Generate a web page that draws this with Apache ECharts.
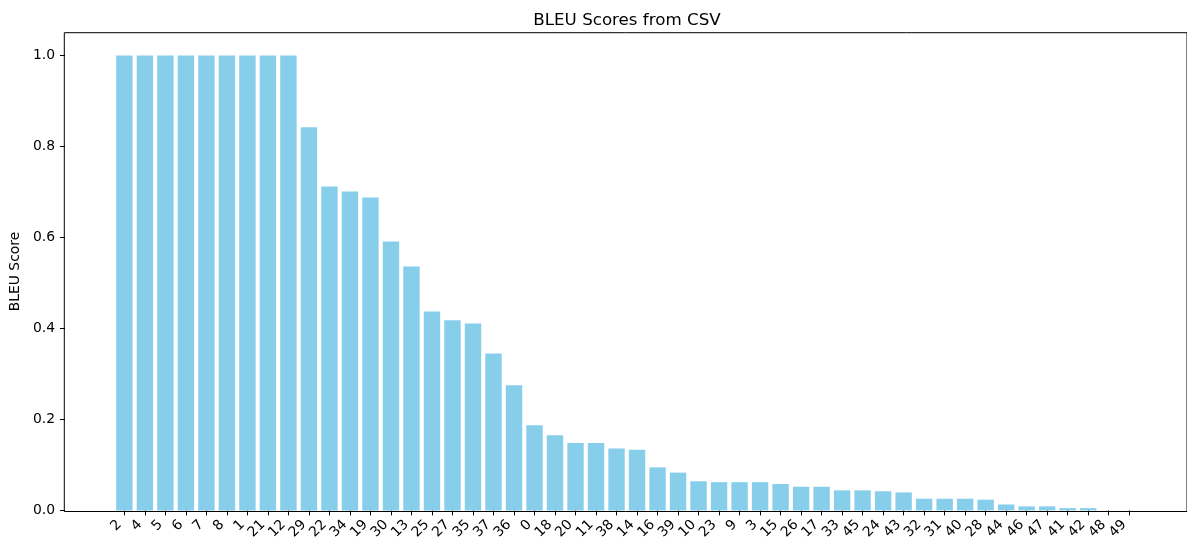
<!DOCTYPE html>
<html>
<head>
<meta charset="utf-8">
<script src="https://cdn.jsdelivr.net/npm/echarts@6/dist/echarts.min.js"></script>
<style>html,body{margin:0;padding:0;background:#fff}#c{width:1187px;height:542px}</style>
</head>
<body>
<div id="c"></div>
<script>
const categories = ['2','4','5','6','7','8','1','21','12','29','22','34','19','30','13','25','27','35','37','36','0','18','20','11','38','14','16','39','10','23','9','3','15','26','17','33','45','24','43','32','31','40','28','44','46','47','41','42','48','49'];
const bleuScores = [1.0,1.0,1.0,1.0,1.0,1.0,1.0,1.0,1.0,0.842,0.712,0.701,0.688,0.591,0.536,0.437,0.418,0.411,0.345,0.275,0.187,0.165,0.148,0.148,0.136,0.133,0.0945,0.083,0.064,0.062,0.062,0.062,0.058,0.052,0.052,0.044,0.044,0.042,0.0395,0.0256,0.0256,0.0256,0.0235,0.013,0.0088,0.0088,0.005,0.005,0,0];
const yTicks = [0,0.2,0.4,0.6,0.8,1.0];

const font = 'DejaVu Sans';
// layout (pixels)
const frameLeft = 64.3, frameTop = 32.7, frameBottom = 511.5, frameRight = 1188.5;
const step = 20.52;                // pixel per category
const firstCenter = 123.7;
const dataLeft = firstCenter - step / 2;
const dataRight = dataLeft + step * categories.length;

const chart = echarts.init(document.getElementById('c'), null, {renderer: 'canvas'});
chart.setOption({
  animation: false,
  title: {
    text: 'BLEU Scores from CSV', left: 622, top: 7, textAlign: 'center',
    textStyle: {fontFamily: font, fontSize: 16.7, fontWeight: 'normal', color: '#000'}
  },
  grid: [
    {left: frameLeft, top: frameTop, width: frameRight - frameLeft, height: frameBottom - frameTop,
     show: true, borderColor: '#000', borderWidth: 1, backgroundColor: 'transparent'},
    {left: dataLeft, top: frameTop, width: dataRight - dataLeft, height: frameBottom - frameTop}
  ],
  xAxis: [
    {gridIndex: 0, type: 'value', show: false, min: 0, max: 1},
    {
      gridIndex: 1, type: 'category', data: categories,
      axisLine: {show: false},
      axisTick: {show: true, alignWithLabel: true, length: 5, lineStyle: {color: '#000'}},
      axisLabel: {interval: 0, rotate: 45, margin: 17, verticalAlign: 'bottom',
                  fontFamily: font, fontSize: 13.9, color: '#000'}
    }
  ],
  yAxis: [
    {gridIndex: 0, type: 'value', show: false, min: 0, max: 1},
    {
      gridIndex: 1, type: 'value', min: 0, max: 1.05, position: 'left', offset: dataLeft - frameLeft,
      name: 'BLEU Score', nameLocation: 'middle', nameGap: 41,
      nameTextStyle: {fontFamily: font, fontSize: 13.9, color: '#000'},
      splitLine: {show: false},
      axisLine: {show: false},
      axisTick: {show: true, length: 5, customValues: yTicks, lineStyle: {color: '#000'}},
      axisLabel: {customValues: yTicks, margin: 10, fontFamily: font, fontSize: 13.9, color: '#000',
                  formatter: v => v.toFixed(1)}
    }
  ],
  series: [{
    type: 'bar', xAxisIndex: 1, yAxisIndex: 1,
    data: bleuScores,
    barWidth: '80%',
    itemStyle: {color: '#87CEEB'}
  }]
});
</script>
</body>
</html>
